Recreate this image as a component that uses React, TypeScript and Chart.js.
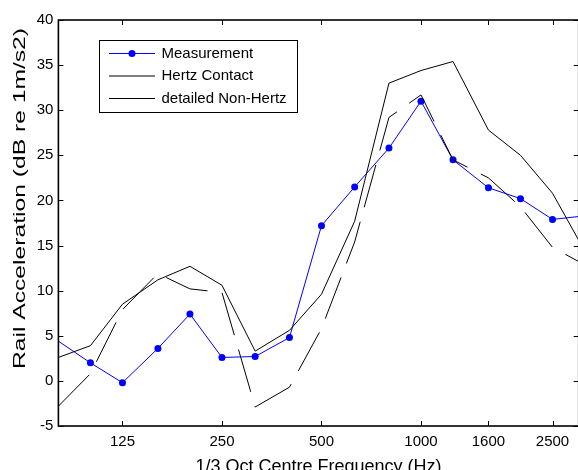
import { useEffect, useRef } from 'react';
import { Chart, registerables } from 'chart.js';

Chart.register(...registerables);

const FONT = '"Liberation Sans", Arial, Helvetica, sans-serif';

// 1/3 octave centre frequencies (Hz)
const freqs = [80, 100, 125, 160, 200, 250, 315, 400, 500, 630, 800, 1000, 1250, 1600, 2000, 2500, 3150];
// Rail acceleration, dB re 1 m/s2
const measurement = [4.4, 2.0, -0.2, 3.6, 7.4, 2.6, 2.7, 4.8, 17.2, 21.5, 25.8, 31.0, 24.5, 21.4, 20.2, 17.9, 18.3];
const hertzContact = [2.6, 3.9, 8.5, 11.2, 12.7, 10.6, 3.3, 5.6, 9.6, 17.7, 33.0, 34.4, 35.4, 27.8, 25.0, 20.8, 14.2];
const nonHertz = [-2.8, 0.8, 7.9, 11.9, 10.2, 9.8, -2.9, -0.7, 5.8, 15.4, 29.2, 31.7, 24.5, 22.5, 19.3, 14.8, 12.8];

const xTickValues = [125, 250, 500, 1000, 1600, 2500];
const yTickValues = [-5, 0, 5, 10, 15, 20, 25, 30, 35, 40];
const seriesNames = ['Measurement', 'Hertz Contact', 'detailed Non-Hertz'];
const xTitle = '1/3 Oct Centre Frequency (Hz)';
const yTitle = 'Rail Acceleration (dB re 1m/s2)';
const X_MIN = 80;
const X_MAX = 3000;

export default function App() {
  const ref = useRef<HTMLCanvasElement>(null);

  useEffect(() => {
    if (!ref.current) return;

    const overlay = {
      id: 'matlabAxes',
      afterDraw(chart: any) {
        const ctx = chart.ctx as CanvasRenderingContext2D;
        const { left, right, top, bottom } = chart.chartArea;
        const xs = chart.scales.x;
        const ys = chart.scales.y;
        ctx.save();
        // axes box
        ctx.strokeStyle = '#000';
        ctx.lineWidth = 1.6;
        ctx.strokeRect(left, top, right - left, bottom - top);
        // inward ticks
        ctx.lineWidth = 1;
        ctx.beginPath();
        for (const v of xTickValues) {
          const px = Math.round(xs.getPixelForValue(v)) + 0.5;
          ctx.moveTo(px, bottom);
          ctx.lineTo(px, bottom - 5);
          ctx.moveTo(px, top);
          ctx.lineTo(px, top + 5);
        }
        for (const v of yTickValues) {
          const py = Math.round(ys.getPixelForValue(v)) + 0.5;
          ctx.moveTo(left, py);
          ctx.lineTo(left + 5, py);
          ctx.moveTo(right, py);
          ctx.lineTo(right - 5, py);
        }
        ctx.stroke();

        // axis titles
        ctx.fillStyle = '#000';
        ctx.font = `18px ${FONT}`;
        ctx.textAlign = 'center';
        ctx.textBaseline = 'alphabetic';
        ctx.fillText(xTitle, (left + right) / 2, 471.5);

        ctx.save();
        ctx.font = `17px ${FONT}`;
        const w = ctx.measureText(yTitle).width;
        const sx = 341 / w;
        ctx.translate(25, 198.5);
        ctx.rotate(-Math.PI / 2);
        ctx.scale(sx, 1);
        ctx.textAlign = 'center';
        ctx.textBaseline = 'alphabetic';
        ctx.fillText(yTitle, 0, 0);
        ctx.restore();

        // legend
        const lx = 99.5, ly = 40.5, lw = 198, lh = 72;
        ctx.fillStyle = '#fff';
        ctx.fillRect(lx, ly, lw, lh);
        ctx.strokeStyle = '#000';
        ctx.lineWidth = 1;
        ctx.strokeRect(lx, ly, lw, lh);
        const rows = [53.5, 76, 98.5];
        const styles = [
          { color: '#0000ff', marker: true },
          { color: '#000', marker: false },
          { color: '#000', marker: false },
        ];
        rows.forEach((ry, i) => {
          ctx.strokeStyle = styles[i].color;
          ctx.lineWidth = 1;
          ctx.beginPath();
          ctx.moveTo(109, ry);
          ctx.lineTo(155, ry);
          ctx.stroke();
          if (styles[i].marker) {
            ctx.fillStyle = '#0000ff';
            ctx.beginPath();
            ctx.arc(132, ry, 3.5, 0, Math.PI * 2);
            ctx.fill();
          }
          ctx.fillStyle = '#000';
          ctx.font = `15px ${FONT}`;
          ctx.textAlign = 'left';
          ctx.textBaseline = 'middle';
          ctx.fillText(seriesNames[i], 161.5, ry);
        });
        ctx.restore();
      },
    };

    const toPts = (arr: number[]) => freqs.map((f, i) => ({ x: f, y: arr[i] }));

    const chart = new Chart(ref.current, {
      type: 'line',
      data: {
        datasets: [
          {
            label: seriesNames[1],
            data: toPts(hertzContact),
            borderColor: '#000',
            borderWidth: 1,
            pointRadius: 0,
            tension: 0,
          },
          {
            label: seriesNames[2],
            data: toPts(nonHertz),
            borderColor: '#000',
            borderWidth: 1,
            borderDash: [44, 15],
            pointRadius: 0,
            tension: 0,
          },
          {
            label: seriesNames[0],
            data: toPts(measurement),
            borderColor: '#0000ff',
            backgroundColor: '#0000ff',
            pointBackgroundColor: '#0000ff',
            pointBorderWidth: 0,
            borderWidth: 1,
            pointRadius: (c: any) => {
              const f = freqs[c.dataIndex];
              return f <= X_MIN || f > X_MAX ? 0 : 3.5;
            },
            tension: 0,
          },
        ],
      },
      options: {
        responsive: false,
        animation: false,
        devicePixelRatio: 1,
        layout: { padding: { top: 20, right: 21.3, left: 0, bottom: 0 } },
        plugins: { legend: { display: false }, tooltip: { enabled: false } },
        scales: {
          x: {
            type: 'logarithmic',
            min: X_MIN,
            max: X_MAX,
            grid: { display: false, drawTicks: false },
            border: { display: false },
            afterBuildTicks: (s: any) => {
              s.ticks = xTickValues.map((v) => ({ value: v }));
            },
            afterFit: (s: any) => {
              s.height = 44;
            },
            ticks: {
              autoSkip: false,
              maxRotation: 0,
              minRotation: 0,
              padding: 7,
              color: '#000',
              font: { family: FONT, size: 15 },
              callback: (v: any) => String(v),
            },
          },
          y: {
            type: 'linear',
            min: -5,
            max: 40,
            grid: { display: false, drawTicks: false },
            border: { display: false },
            afterBuildTicks: (s: any) => {
              s.ticks = yTickValues.map((v) => ({ value: v }));
            },
            afterFit: (s: any) => {
              s.width = 58.4;
            },
            ticks: {
              padding: 5,
              color: '#000',
              font: { family: FONT, size: 15 },
              callback: (v: any) => String(v),
            },
          },
        },
      },
      plugins: [overlay],
    });

    return () => chart.destroy();
  }, []);

  return (
    <div
      style={{
        position: 'fixed',
        left: 0,
        top: 0,
        width: 578,
        height: 470,
        overflow: 'hidden',
        background: '#fff',
      }}
    >
      <canvas ref={ref} width={600} height={470} style={{ display: 'block' }} />
    </div>
  );
}
